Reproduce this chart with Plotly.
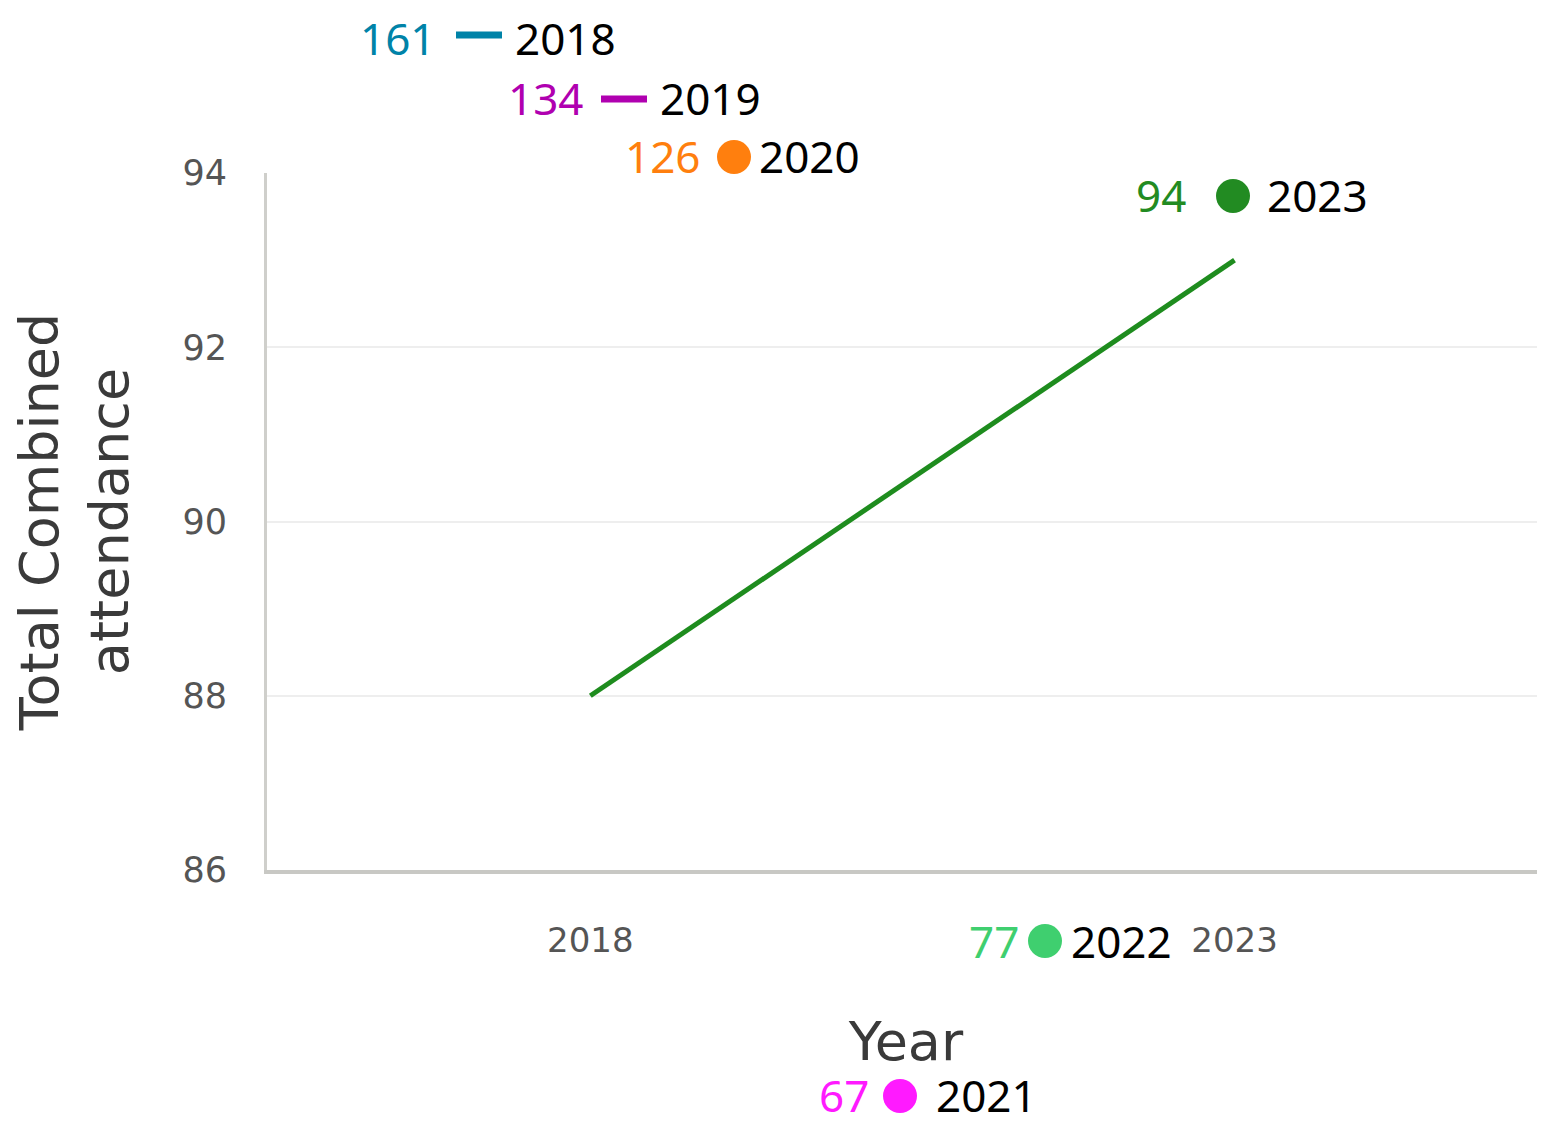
import plotly.graph_objects as go

# Data
years = [2018, 2019, 2020, 2021, 2022, 2023]
totals = [161, 134, 126, 67, 77, 94]
colors = ["#0083A8", "#B000B0", "#FF7F0E", "#FF1AFF", "#3FCF6F", "#228B22"]
symbols = ["line", "line", "circle", "circle", "circle", "circle"]

line_x = [2018, 2023]
line_y = [88, 93]

x_ticks = [2018, 2023]
y_ticks = [86, 88, 90, 92, 94]

# Layout geometry (screen pixels); page body has an 8px offset
OFF = 8
W, H = 1545 - OFF, 1125 - OFF
L, R, T, B = 267 - OFF, 1545 - OFF, 173 - OFF, 870 - OFF
PW, PH = R - L, B - T

def px(x):
    return (x - OFF - L) / PW

def py(y):
    return (B - (y - OFF)) / PH

# legend-like items: (marker cx, marker cy, text cy, number right edge, year left edge) in screen px
item_pos = {
    2018: (479, 35, 39, 437, 514),
    2019: (624, 99, 99.5, 585, 659),
    2020: (734, 157, 157, 702, 758),
    2021: (900, 1096, 1096, 870, 935),
    2022: (1045, 941, 942, 1020, 1070),
    2023: (1233, 196, 196, 1187, 1266),
}

fig = go.Figure()
fig.add_trace(go.Scatter(x=line_x, y=line_y, mode="lines",
                         line=dict(color="#1E8C1E", width=5), showlegend=False,
                         hoverinfo="skip"))

shapes = []
annotations = []
TXT_FONT = "Noto Sans"
for yr, tot, col, sym in zip(years, totals, colors, symbols):
    cx, cy, ty, nr, yl = item_pos[yr]
    if sym == "line":
        shapes.append(dict(type="line", xref="paper", yref="paper",
                           x0=px(cx - 23), x1=px(cx + 23), y0=py(cy), y1=py(cy),
                           line=dict(color=col, width=7)))
    else:
        r = 17
        shapes.append(dict(type="circle", xref="paper", yref="paper",
                           x0=px(cx - r), x1=px(cx + r), y0=py(cy - r), y1=py(cy + r),
                           fillcolor=col, line=dict(width=0)))
    annotations.append(dict(text=str(tot), xref="paper", yref="paper",
                            x=px(nr), y=py(ty - 1), xanchor="right", yanchor="middle",
                            showarrow=False, borderpad=0,
                            font=dict(family=TXT_FONT, size=44, color=col)))
    annotations.append(dict(text=str(yr), xref="paper", yref="paper",
                            x=px(yl), y=py(ty - 1), xanchor="left", yanchor="middle",
                            showarrow=False, borderpad=0,
                            font=dict(family=TXT_FONT, size=44, color="black")))

fig.update_layout(
    width=W, height=H,
    margin=dict(l=L, r=W - R, t=T, b=H - B, pad=0),
    paper_bgcolor="white", plot_bgcolor="white",
    shapes=shapes, annotations=annotations,
    showlegend=False,
    font=dict(family="DejaVu Sans", color="#444"),
)
fig.update_xaxes(range=[2015.49, 2025.41], tickvals=x_ticks, ticktext=[str(v) for v in x_ticks],
                 showgrid=False, zeroline=False,
                 showline=True, linecolor="#C8C8C4", linewidth=4,
                 tickfont=dict(size=34, color="#555"), ticklabelstandoff=37,
                 title=dict(text="Year", font=dict(size=54, color="#3a3a3a"), standoff=64))
fig.update_yaxes(range=[86, 94], tickvals=y_ticks, showgrid=True, gridcolor="#EEEEEE", gridwidth=2,
                 zeroline=False, showline=True, linecolor="#CFCFCB", linewidth=3,
                 tickfont=dict(size=35, color="#555"), ticklabelstandoff=30,
                 title=dict(text="Total Combined<br>attendance", font=dict(size=54, color="#3a3a3a"),
                            standoff=46))

fig.write_html("out.html")
